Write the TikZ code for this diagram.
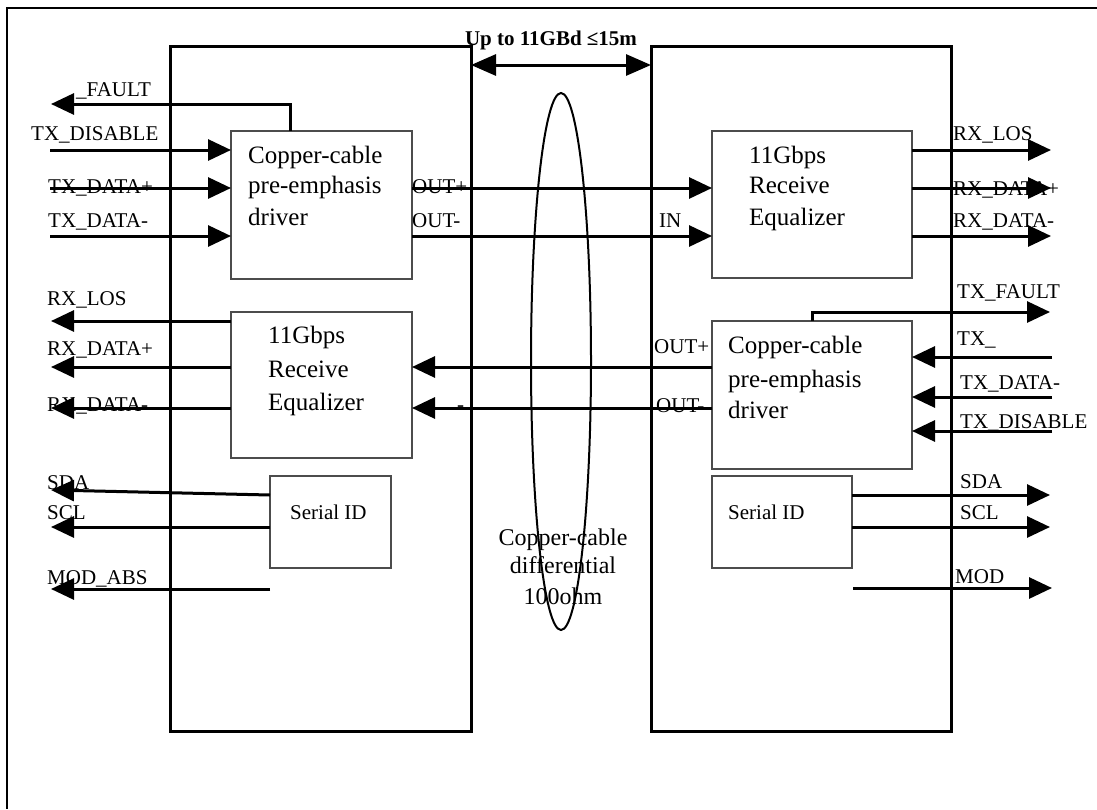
\documentclass[tikz,border=0pt]{standalone}
\usepackage{fontspec}
\setmainfont{Liberation Serif}
\usetikzlibrary{arrows.meta,shapes.geometric}
\begin{document}
\begin{tikzpicture}[x=1pt,y=-1pt,
  module/.style={draw, line width=3pt, inner sep=0pt, outer sep=0pt},
  block/.style={draw=black!70, line width=1.5pt, inner sep=0pt, outer sep=0pt},
  sig/.style={line width=3pt, -{Triangle[length=23pt,width=21pt]}},
  lbl/.style={font=\fontsize{21}{24}\selectfont, inner sep=0pt, anchor=base west},
  btxt/.style={font=\fontsize{25}{30}\selectfont, inner sep=0pt, anchor=base west},
  ctxt/.style={font=\fontsize{24}{28}\selectfont, inner sep=0pt, anchor=base},
]
\useasboundingbox (0,0) rectangle (1097,809);
\draw[line width=2.5pt] (1097,8) -- (7,8) -- (7,809);

% modules and blocks
\node[module, minimum width=301pt, minimum height=685pt] (lmod) at (320.5,388.5) {};
\node[module, minimum width=300pt, minimum height=685pt] (rmod) at (801,388.5) {};
\node[block, minimum width=181pt, minimum height=148pt] (ldrv) at (321.5,205) {};
\node[block, minimum width=200pt, minimum height=147pt] (rrx) at (812,204.5) {};
\node[block, minimum width=181pt, minimum height=146pt] (lrx) at (321.5,385) {};
\node[block, minimum width=200pt, minimum height=148pt] (rdrv) at (812,395) {};
\node[block, minimum width=121pt, minimum height=92pt] (lsid) at (330.5,522) {};
\node[block, minimum width=140pt, minimum height=92pt] (rsid) at (782,522) {};
\node[draw, ellipse, line width=2pt, minimum width=60pt, minimum height=537pt, inner sep=0pt] (cable) at (561,361.5) {};

% free ends
\coordinate (lFault) at (51,104);
\coordinate (lTxDis) at (50,150);
\coordinate (lTxDp) at (50,188);
\coordinate (lTxDm) at (50,236);
\coordinate (lRxLos) at (51,321);
\coordinate (lRxDp) at (51,367);
\coordinate (lRxDm) at (51,408);
\coordinate (lSda) at (51,490);
\coordinate (lScl) at (51,527);
\coordinate (lModS) at (270,589);
\coordinate (lMod) at (51,589);
\coordinate (rRxLos) at (1051,150);
\coordinate (rRxDp) at (1051,188);
\coordinate (rRxDm) at (1051,236);
\coordinate (rTxFault) at (1050,312);
\coordinate (rTx) at (1052,357);
\coordinate (rTxDm) at (1052,397);
\coordinate (rTxDis) at (1052,431);
\coordinate (rSda) at (1050,495);
\coordinate (rScl) at (1050,527);
\coordinate (rModS) at (853,588);
\coordinate (rMod) at (1052,588);

% connectors, left module
\draw[sig] (ldrv.north -| 290,0) |- (lFault);
\draw[sig] (lTxDis) -- (lTxDis -| ldrv.west);
\draw[sig] (lTxDp) -- (lTxDp -| ldrv.west);
\draw[sig] (lTxDm) -- (lTxDm -| ldrv.west);
\draw[sig] (ldrv.east |- 0,188) -- (rrx.west |- 0,188);
\draw[sig] (ldrv.east |- 0,236) -- (rrx.west |- 0,236);
\draw[sig] (lrx.west |- lRxLos) -- (lRxLos);
\draw[sig] (lrx.west |- lRxDp) -- (lRxDp);
\draw[sig] (lrx.west |- lRxDm) -- (lRxDm);
\draw[sig] (rdrv.west |- 0,367) -- (lrx.east |- 0,367);
\draw[sig] (rdrv.west |- 0,408) -- (lrx.east |- 0,408);
\draw[sig] (lsid.west |- 0,495) -- (lSda);
\draw[sig] (lsid.west |- lScl) -- (lScl);
\draw[sig] (lModS) -- (lMod);
% connectors, right module
\draw[sig] (rrx.east |- rRxLos) -- (rRxLos);
\draw[sig] (rrx.east |- rRxDp) -- (rRxDp);
\draw[sig] (rrx.east |- rRxDm) -- (rRxDm);
\draw[sig] (rdrv.north) |- (rTxFault);
\draw[sig] (rTx) -- (rTx -| rdrv.east);
\draw[sig] (rTxDm) -- (rTxDm -| rdrv.east);
\draw[sig] (rTxDis) -- (rTxDis -| rdrv.east);
\draw[sig] (rsid.east |- rSda) -- (rSda);
\draw[sig] (rsid.east |- rScl) -- (rScl);
\draw[sig] (rModS) -- (rMod);
% span arrow
\draw[line width=3pt, {Triangle[length=25pt,width=21pt]}-{Triangle[length=25pt,width=21pt]}] (lmod.east |- 0,65) -- (rmod.west |- 0,65);
\node[font=\bfseries\fontsize{21}{24}\selectfont, inner sep=0pt, anchor=base] (span) at (551,45) {Up to 11GBd ≤15m};

% block texts
\node[btxt] (ldrv1) at (248,163) {Copper-cable};
\node[btxt] (ldrv2) at (248,193) {pre-emphasis};
\node[btxt] (ldrv3) at (248,225) {driver};
\node[btxt] (rrx1) at (749,163) {11Gbps};
\node[btxt] (rrx2) at (749,193) {Receive};
\node[btxt] (rrx3) at (749,225) {Equalizer};
\node[btxt] (lrx1) at (268,343) {11Gbps};
\node[btxt] (lrx2) at (268,377) {Receive};
\node[btxt] (lrx3) at (268,410) {Equalizer};
\node[btxt] (rdrv1) at (728,353) {Copper-cable};
\node[btxt] (rdrv2) at (728,387) {pre-emphasis};
\node[btxt] (rdrv3) at (728,418) {driver};
\node[lbl] (lsidt) at (290,519) {Serial ID};
\node[lbl] (rsidt) at (728,519) {Serial ID};
\node[ctxt] (cab1) at (563,545) {Copper-cable};
\node[ctxt] (cab2) at (563,573) {differential};
\node[ctxt] (cab3) at (563,604) {100ohm};

% left labels
\node[lbl] (tFault) at (76,96) {\_FAULT};
\node[lbl] (tTxDis) at (31,140) {TX\_DISABLE};
\node[lbl] (tTxDp) at (48,193) {TX\_DATA+};
\node[lbl] (tTxDm) at (48,227) {TX\_DATA-};
\node[lbl] (tRxLosL) at (47,305) {RX\_LOS};
\node[lbl] (tRxDpL) at (47,355) {RX\_DATA+};
\node[lbl] (tRxDmL) at (47,411) {RX\_DATA-};
\node[lbl] (tSdaL) at (47,489) {SDA};
\node[lbl] (tSclL) at (47,519) {SCL};
\node[lbl] (tModL) at (47,584) {MOD\_ABS};
% inner labels
\node[lbl] (tOutpL) at (412,193) {OUT+};
\node[lbl] (tOutmL) at (412,227) {OUT-};
\node[lbl] (tIn) at (659,227) {IN};
\node[lbl] (tOutpR) at (654,353) {OUT+};
\node[lbl] (tOutmR) at (656,412) {OUT-};
\node[lbl] (tDash) at (457,411) {-};
% right labels
\node[lbl] (tRxLosR) at (953,140) {RX\_LOS};
\node[lbl] (tRxDpR) at (953,195) {RX\_DATA+};
\node[lbl] (tRxDmR) at (953,227) {RX\_DATA-};
\node[lbl] (tTxFault) at (957,298) {TX\_FAULT};
\node[lbl] (tTx) at (957,345) {TX\_};
\node[lbl] (tTxDmR) at (960,389) {TX\_DATA-};
\node[lbl] (tTxDisR) at (960,428) {TX\_DISABLE};
\node[lbl] (tSdaR) at (960,488) {SDA};
\node[lbl] (tSclR) at (960,519) {SCL};
\node[lbl] (tModR) at (955,583) {MOD};
\end{tikzpicture}
\end{document}
